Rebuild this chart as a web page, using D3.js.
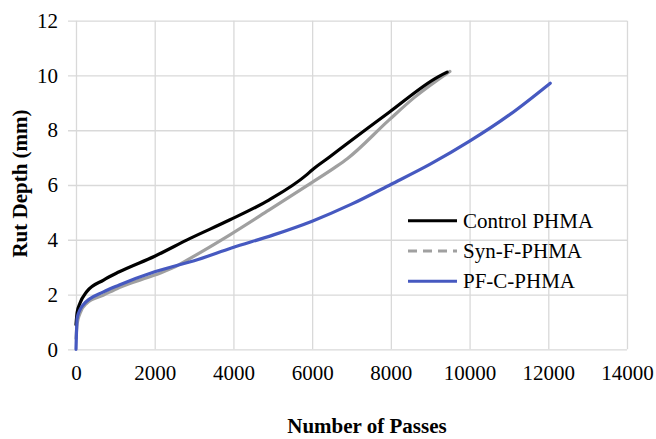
<!DOCTYPE html>
<html>
<head>
<meta charset="utf-8">
<script src="https://cdn.jsdelivr.net/npm/d3@7"></script>
<style>
  body { margin: 0; background: #fff; }
  svg, svg text { font-family: "Liberation Serif", "DejaVu Serif", serif !important; }
</style>
</head>
<body>
<div id="chart"></div>
<script>
// data
const passesControl = [0, 30, 100, 270, 700, 1100, 2000, 2900, 3900, 4900, 5850, 6000, 6450, 6850, 7950, 9200, 9430];
const depthControl  = [0.9, 1.35, 1.68, 2.1, 2.53, 2.83, 3.4, 4.05, 4.72, 5.45, 6.36, 6.55, 7.03, 7.47, 8.65, 9.95, 10.12];

const passesSynF = [0, 30, 100, 270, 700, 1100, 2000, 2500, 2900, 3900, 4900, 5950, 6600, 6900, 7950, 8600, 9500];
const depthSynF  = [0.4, 0.95, 1.31, 1.68, 1.98, 2.26, 2.71, 3.0, 3.32, 4.17, 5.08, 6.05, 6.66, 6.97, 8.37, 9.2, 10.15];

const passesPFC = [0, 30, 180, 700, 1100, 2000, 3100, 3950, 5000, 6000, 7000, 8000, 9000, 10000, 11000, 12050];
const depthPFC  = [0, 1.15, 1.62, 2.1, 2.35, 2.83, 3.28, 3.7, 4.17, 4.68, 5.3, 6.02, 6.76, 7.6, 8.55, 9.72];

const seriesNames = ['Control PHMA', 'Syn-F-PHMA', 'PF-C-PHMA'];
const xTicks = [0, 2000, 4000, 6000, 8000, 10000, 12000, 14000];
const yTicks = [0, 2, 4, 6, 8, 10, 12];

const FONT = '"Liberation Serif", "DejaVu Serif", serif';

const width = 656;
const height = 439;
const margin = { top: 20.7, left: 76, right: 29, bottom: 89.7 };

const svg = d3.select('#chart')
    .append('svg')
    .attr('width', width)
    .attr('height', height)
    .style('font-family', FONT);

const chartWidth = width - margin.left - margin.right;
const chartHeight = height - margin.top - margin.bottom;

const chart = svg.append('g')
    .attr('transform', `translate(${margin.left},${margin.top})`);

const xScale = d3.scaleLinear().domain([0, 14000]).range([0, chartWidth]);
const yScale = d3.scaleLinear().domain([0, 12]).range([chartHeight, 0]);

// gridlines
const yGrid = d3.axisLeft(yScale)
    .tickValues(yTicks)
    .tickSize(-chartWidth - 8)
    .tickFormat('');
chart.append('g')
    .attr('transform', 'translate(-8,0)')
    .call(yGrid)
    .call(g => g.select('.domain').remove())
    .call(g => g.selectAll('line').attr('stroke', '#d9d9d9').attr('stroke-width', 1.3));

const xGrid = d3.axisBottom(xScale)
    .tickValues(xTicks)
    .tickSize(-chartHeight)
    .tickFormat('');
chart.append('g')
    .attr('transform', `translate(0,${chartHeight})`)
    .call(xGrid)
    .call(g => g.select('.domain').remove())
    .call(g => g.selectAll('line').attr('stroke', '#d9d9d9').attr('stroke-width', 1.3));

// tick labels
const yAxis = d3.axisLeft(yScale).tickValues(yTicks).tickSize(0).tickPadding(18);
chart.append('g')
    .call(yAxis)
    .attr('font-family', null)
    .attr('font-size', 21)
    .call(g => g.select('.domain').remove())
    .call(g => g.selectAll('text').attr('fill', '#000').style('font-family', FONT));

const xAxis = d3.axisBottom(xScale).tickValues(xTicks).tickSize(0).tickPadding(16)
    .tickFormat(d3.format('d'));
chart.append('g')
    .attr('transform', `translate(0,${chartHeight})`)
    .call(xAxis)
    .attr('font-family', null)
    .attr('font-size', 21)
    .call(g => g.select('.domain').remove())
    .call(g => g.selectAll('text').attr('fill', '#000').style('font-family', FONT));

// series
const series = [
    { name: seriesNames[0], x: passesControl, y: depthControl, color: '#000000', dash: null },
    { name: seriesNames[1], x: passesSynF, y: depthSynF, color: '#a0a0a0', dash: '9,6' },
    { name: seriesNames[2], x: passesPFC, y: depthPFC, color: '#4659c0', dash: null }
];

const line = d3.line()
    .x(d => xScale(d[0]))
    .y(d => yScale(d[1]))
    .curve(d3.curveMonotoneX);

// gray first, then black, then blue on top
[series[1], series[0], series[2]].forEach(s => {
    chart.append('path')
        .datum(s.x.map((v, i) => [v, s.y[i]]))
        .attr('fill', 'none')
        .attr('stroke', s.color)
        .attr('stroke-width', 3.2)
        .attr('stroke-linecap', 'round')
        .attr('stroke-linejoin', 'round')
        .attr('d', line);
});

// legend
const legend = svg.append('g').attr('transform', 'translate(408,220.7)');
series.forEach((s, i) => {
    const row = legend.append('g').attr('transform', `translate(0,${i * 30.3})`);
    row.append('line')
        .attr('x1', 0).attr('x2', 49)
        .attr('y1', 0).attr('y2', 0)
        .attr('stroke', s.color)
        .attr('stroke-width', 3)
        .attr('stroke-dasharray', s.dash);
    row.append('text')
        .attr('x', 55)
        .attr('y', 7)
        .attr('font-size', 21)
        .text(s.name);
});

// titles
svg.append('text')
    .attr('x', 367)
    .attr('y', 433)
    .attr('font-size', 21)
    .attr('font-weight', 'bold')
    .attr('text-anchor', 'middle')
    .text('Number of Passes');

svg.append('text')
    .attr('transform', 'translate(27,183.5) rotate(-90)')
    .attr('font-size', 21)
    .attr('font-weight', 'bold')
    .attr('text-anchor', 'middle')
    .text('Rut Depth (mm)');
</script>
</body>
</html>
